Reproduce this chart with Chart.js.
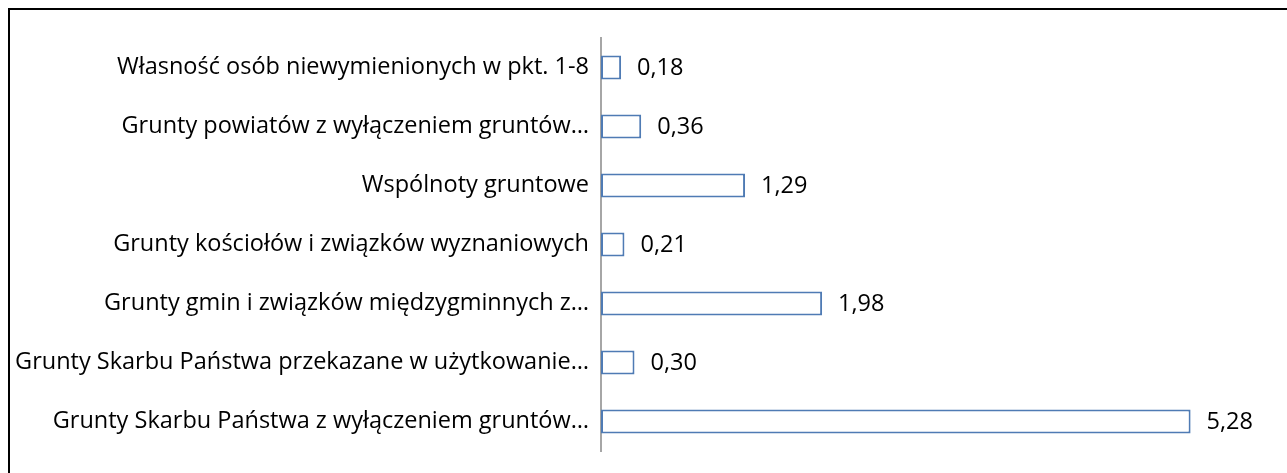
<!DOCTYPE html>
<html>
<head>
<meta charset="utf-8">
<script src="https://cdn.jsdelivr.net/npm/chart.js@4.4.1/dist/chart.umd.min.js"></script>
<style>
  html, body { margin: 0; padding: 0; background: #ffffff; }
  #wrap { position: relative; width: 1287px; height: 473px; }
</style>
</head>
<body>
<div id="wrap"><canvas id="chart" width="1287" height="473"></canvas></div>
<script>
// Land ownership categories (top to bottom) and their shares
const categories = [
  'Własność osób niewymienionych w pkt. 1-8',
  'Grunty powiatów z wyłączeniem gruntów…',
  'Wspólnoty gruntowe',
  'Grunty kościołów i związków wyznaniowych',
  'Grunty gmin i związków międzygminnych z…',
  'Grunty Skarbu Państwa przekazane w użytkowanie…',
  'Grunty Skarbu Państwa z wyłączeniem gruntów…'
];
const values = [0.18, 0.36, 1.29, 0.21, 1.98, 0.30, 5.28];
const axisMin = 0;
const axisMax = 6;

const FONT = '"Open Sans", "Noto Sans", sans-serif';
const FONT_SIZE = 23.5;

// Writes each bar's value (Polish decimal comma) to the right of the bar
const valueLabels = {
  id: 'valueLabels',
  afterDatasetsDraw(chart) {
    const ctx = chart.ctx;
    const meta = chart.getDatasetMeta(0);
    ctx.save();
    ctx.font = FONT_SIZE + 'px ' + FONT;
    ctx.fillStyle = '#000000';
    ctx.textAlign = 'left';
    ctx.textBaseline = 'middle';
    meta.data.forEach((bar, i) => {
      const txt = values[i].toFixed(2).replace('.', ',');
      ctx.fillText(txt, bar.x + 16, bar.y + 1);
    });
    ctx.restore();
  }
};

// Thin frame along the top and left edges of the chart
const frame = {
  id: 'frame',
  beforeDraw(chart) {
    const ctx = chart.ctx;
    ctx.save();
    ctx.strokeStyle = '#000000';
    ctx.lineWidth = 2;
    ctx.beginPath();
    ctx.moveTo(9, 480);
    ctx.lineTo(9, 9);
    ctx.lineTo(1300, 9);
    ctx.stroke();
    ctx.restore();
  }
};

new Chart(document.getElementById('chart'), {
  type: 'bar',
  data: {
    labels: categories,
    datasets: [{
      data: values,
      backgroundColor: '#ffffff',
      borderColor: '#4f7bb4',
      borderWidth: 2,
      borderSkipped: false,
      categoryPercentage: 1.0,
      barPercentage: 0.41
    }]
  },
  options: {
    indexAxis: 'y',
    responsive: false,
    animation: false,
    layout: { padding: { left: 0, right: 16, top: 38, bottom: 22 } },
    plugins: {
      legend: { display: false },
      tooltip: { enabled: false }
    },
    scales: {
      x: {
        display: false,
        min: axisMin,
        max: axisMax
      },
      y: {
        grid: { display: false },
        border: { display: true, color: '#a6a6a6', width: 2 },
        ticks: {
          color: '#000000',
          padding: 4,
          font: { family: FONT, size: FONT_SIZE }
        },
        afterFit(scale) { scale.width = 601; }
      }
    }
  },
  plugins: [frame, valueLabels]
});
</script>
</body>
</html>
